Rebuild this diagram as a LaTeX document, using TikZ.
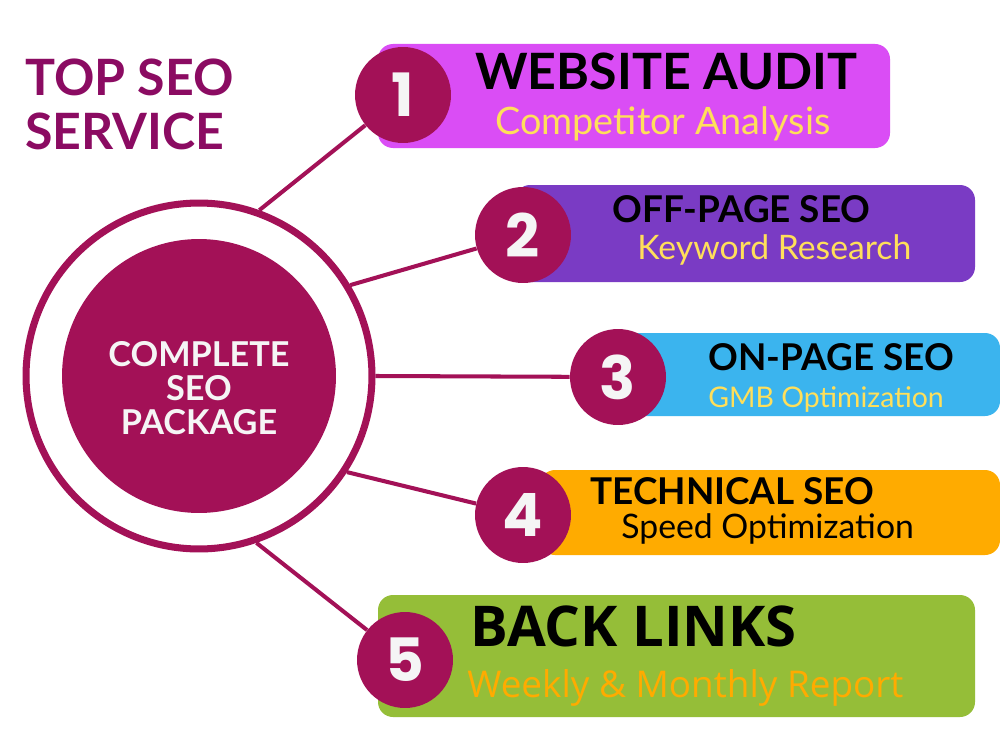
\documentclass[tikz,border=0pt]{standalone}
\usepackage{fontspec}
\setmainfont{Lato}
\newfontfamily\opensans{Open Sans}
\newfontfamily\digitfont{Poppins}
\definecolor{seored}{HTML}{A31157}
\definecolor{titlecol}{HTML}{8B0B62}
\definecolor{auditcol}{HTML}{DA4DF5}
\definecolor{offcol}{HTML}{7A3BC4}
\definecolor{oncol}{HTML}{3BB4EE}
\definecolor{techcol}{HTML}{FFAB00}
\definecolor{linkcol}{HTML}{95BE38}
\definecolor{subyellow}{HTML}{FFDF5A}
\definecolor{numwhite}{HTML}{F5F5F5}
\begin{document}
\begin{tikzpicture}[x=0.02cm,y=-0.02cm,
  numcircle/.style={circle,fill=seored,minimum size=1.92cm,inner sep=0pt,text=numwhite,
    font=\digitfont\fontsize{34}{34}\selectfont\bfseries},
  link/.style={draw=seored,line width=2.3pt},
  itembox/.style={rounded corners=0.3cm},
  head/.style={anchor=base west,inner sep=0pt,font=\fontsize{21}{24}\selectfont\bfseries},
  sub/.style={anchor=base west,inner sep=0pt,font=\fontsize{19.2}{22}\selectfont}]
\useasboundingbox (0,0) rectangle (1000,750);
\fill[white] (0,0) rectangle (1000,750);
% Title
\node[anchor=base west,inner sep=0pt,text=titlecol,font=\fontsize{28.5}{30}\selectfont\bfseries] (title1) at (25,95) {TOP SEO};
\node[anchor=base west,inner sep=0pt,text=titlecol,font=\fontsize{28.5}{30}\selectfont\bfseries] (title2) at (25,150) {SERVICE};
% Item boxes
\fill[auditcol,itembox] (378,44) rectangle (890,148);
\fill[offcol,itembox] (515,185) rectangle (975,282);
\fill[oncol,itembox] (600,333) rectangle (1000,416);
\fill[techcol,itembox] (540,470) rectangle (1000,555);
\fill[linkcol,itembox] (378,595) rectangle (975,717);
% Centre
\node[circle,draw=seored,line width=4pt,minimum size=6.92cm,inner sep=0pt] (ring) at (199,376) {};
\node[circle,fill=seored,minimum size=5.48cm,inner sep=0pt] (core) at (199,376) {};
\node[align=center,text=numwhite,inner sep=0pt,font=\fontsize{19.5}{19.4}\selectfont\bfseries] (coretext) at (199,388) {COMPLETE\\SEO\\PACKAGE};
% Numbers
\node[numcircle] (n1) at (403,95) {1};
\node[numcircle] (n2) at (523,235) {2};
\node[numcircle] (n3) at (618,377) {3};
\node[numcircle] (n4) at (523,515) {4};
\node[numcircle] (n5) at (405,660) {5};
% Connectors
\draw[link] (ring.70) -- (n1);
\draw[link] (ring.31) -- (n2);
\draw[link] (ring.0) -- (n3);
\draw[link] (ring.-33) -- (n4);
\draw[link] (ring.-71) -- (n5);
% Labels
\node[head,font=\fontsize{28.5}{30}\selectfont\bfseries] (h1) at (475,90) {WEBSITE AUDIT};
\node[sub,text=subyellow,font=\fontsize{21.5}{24}\selectfont] (s1) at (495,134) {Competitor Analysis};
\node[head] (h2) at (612,222) {OFF-PAGE SEO};
\node[sub,text=subyellow] (s2) at (637,259) {Keyword Research};
\node[head] (h3) at (708,370) {ON-PAGE SEO};
\node[sub,text=subyellow,font=\fontsize{16.2}{18}\selectfont] (s3) at (708,407) {GMB Optimization};
\node[head] (h4) at (590,504) {TECHNICAL SEO};
\node[sub,text=black] (s4) at (621,538) {Speed Optimization};
\node[head,font=\opensans\fontsize{32}{34}\selectfont\bfseries] (h5) at (470,646) {BACK LINKS};
\node[sub,text=techcol,font=\opensans\fontsize{21}{23}\selectfont] (s5) at (467,697) {Weekly \& Monthly Report};
\end{tikzpicture}
\end{document}
